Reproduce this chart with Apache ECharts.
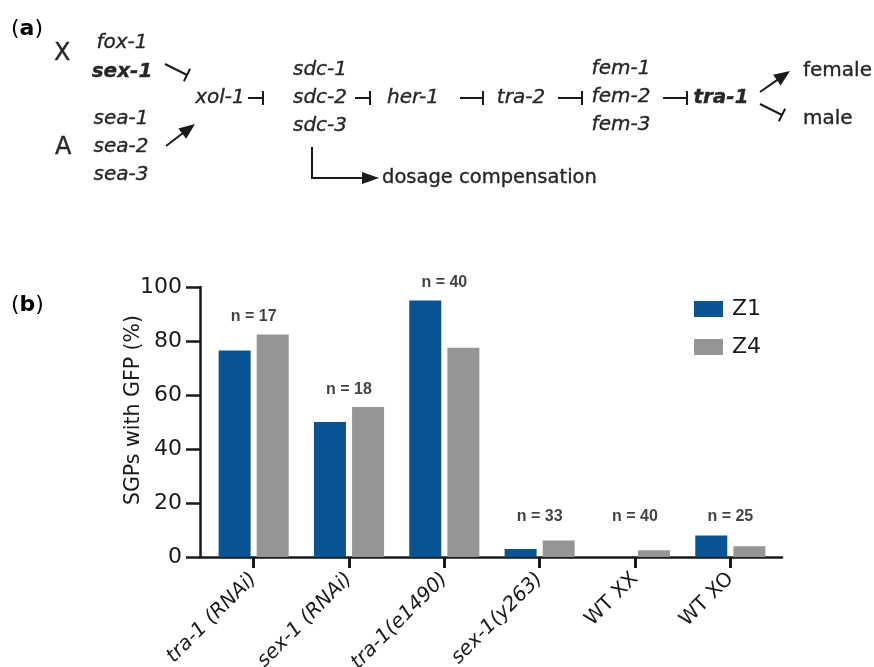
<!DOCTYPE html>
<html>
<head>
<meta charset="utf-8">
<script src="https://cdn.jsdelivr.net/npm/echarts@6/dist/echarts.min.js"></script>
<style>
  html, body { margin: 0; padding: 0; background: #fff; }
  #chart { width: 874px; height: 667px; }
</style>
</head>
<body>
<div id="chart"></div>
<script>
// ---- data ----
const categories = ['tra-1 (RNAi)', 'sex-1 (RNAi)', 'tra-1(e1490)', 'sex-1(y263)', 'WT XX', 'WT XO'];
const z1Values = [76.5, 50.0, 95.0, 3.0, 0, 8.0];
const z4Values = [82.4, 55.6, 77.5, 6.1, 2.5, 4.0];
const nCounts = [17, 18, 40, 33, 40, 25];
const seriesNames = ['Z1', 'Z4'];
const yTickValues = [0, 20, 40, 60, 80, 100];

// ---- styling ----
const BLUE = '#0a5493';
const GRAY = '#959595';
const INK = '#1a1a1a';
const FONT = 'DejaVu Sans';

const chart = echarts.init(document.getElementById('chart'), null, { renderer: 'canvas' });

// label heights for the "n = " annotations (placed just above each group's tallest bar)
const nLabelY = categories.map((c, i) => Math.max(Math.max(z1Values[i], z4Values[i]) + 6.5, 15));

// ---- diagram (panel a) helpers ----
const G = [];
function txt(text, x, y, opt) {
  opt = opt || {};
  G.push({
    type: 'text', x: x, y: y, z: 10,
    style: {
      text: text, fill: opt.color || '#262626',
      font: (opt.style || 'normal') + ' ' + (opt.weight || 'normal') + ' ' + (opt.size || 20) + 'px "' + FONT + '"',
      textAlign: opt.align || 'center', textVerticalAlign: 'middle',
      stroke: opt.color || '#262626', lineWidth: 0.35
    }
  });
}
function line(x1, y1, x2, y2, w) {
  G.push({ type: 'line', z: 10, shape: { x1: x1, y1: y1, x2: x2, y2: y2 }, style: { stroke: INK, lineWidth: w || 2 } });
}
function inhib(x1, y1, x2, y2, half) {
  half = half || 7;
  line(x1, y1, x2, y2);
  const dx = x2 - x1, dy = y2 - y1, L = Math.hypot(dx, dy);
  const px = -dy / L, py = dx / L;
  line(x2 + px * half, y2 + py * half, x2 - px * half, y2 - py * half);
}
function arrow(x1, y1, x2, y2, len, wid) {
  len = len || 16; wid = wid || 13;
  const dx = x2 - x1, dy = y2 - y1, L = Math.hypot(dx, dy);
  const ux = dx / L, uy = dy / L, px = -uy, py = ux;
  const bx = x2 - ux * len, by = y2 - uy * len;
  line(x1, y1, bx + ux * 1, by + uy * 1);
  G.push({ type: 'polygon', z: 10, shape: { points: [[x2, y2], [bx + px * wid / 2, by + py * wid / 2], [bx - px * wid / 2, by - py * wid / 2]] }, style: { fill: INK } });
}
function panelLabel(letter, x, y) {
  G.push({ type: 'text', x: x, y: y, z: 10, style: {
    text: '{n|(}{b|' + letter + '}{n|)}', textVerticalAlign: 'middle',
    rich: { n: { fontFamily: FONT, fontSize: 22, color: INK }, b: { fontFamily: FONT, fontSize: 22, fontWeight: 'bold', color: INK } }
  } });
}

// panel labels
panelLabel('a', 11, 29);
panelLabel('b', 11, 305);

// chromosome signal
txt('X', 54, 54, { size: 24, align: 'left' });
txt('A', 55, 148, { size: 24, align: 'left' });
txt('fox-1', 122, 43, { style: 'italic' });
txt('sex-1', 122, 72, { style: 'italic', weight: 'bold' });
txt('sea-1', 121, 119, { style: 'italic' });
txt('sea-2', 121, 147, { style: 'italic' });
txt('sea-3', 121, 175, { style: 'italic' });
inhib(165, 64, 187, 75);
arrow(166, 146, 195, 124);

// pathway
txt('xol-1', 220, 98, { style: 'italic' });
inhib(248, 98, 263, 98);
txt('sdc-1', 320, 70, { style: 'italic' });
txt('sdc-2', 320, 98, { style: 'italic' });
txt('sdc-3', 320, 126, { style: 'italic' });
inhib(355, 98, 370, 98);
txt('her-1', 413, 98, { style: 'italic' });
inhib(460, 98, 483, 98);
txt('tra-2', 521, 98, { style: 'italic' });
inhib(558, 98, 582, 98);
txt('fem-1', 621, 69, { style: 'italic' });
txt('fem-2', 621, 97, { style: 'italic' });
txt('fem-3', 621, 125, { style: 'italic' });
inhib(663, 98, 687, 98);
txt('tra-1', 721, 98, { style: 'italic', weight: 'bold' });
arrow(760, 92, 790, 71);
inhib(760, 104, 782, 115);
txt('female', 803, 71, { align: 'left' });
txt('male', 803, 119, { align: 'left' });

// dosage compensation branch
G.push({ type: 'polyline', z: 10, shape: { points: [[312, 147], [312, 178], [364, 178]] }, style: { stroke: INK, lineWidth: 2, fill: null } });
G.push({ type: 'polygon', z: 10, shape: { points: [[379, 178], [362, 172], [362, 184]] }, style: { fill: INK } });
txt('dosage compensation', 382, 178, { align: 'left', size: 19.5 });

const option = {
  animation: false,
  backgroundColor: '#ffffff',
  textStyle: { fontFamily: FONT, color: INK },
  graphic: G,
  legend: {
    data: seriesNames,
    orient: 'vertical',
    left: 689, top: 293,
    itemWidth: 29, itemHeight: 16, itemGap: 16,
    icon: 'rect',
    textStyle: { fontFamily: FONT, fontSize: 22, color: INK, padding: [0, 0, 0, 4] }
  },
  grid: [
    { left: 200, right: 92, top: 287, bottom: 110, containLabel: false, outerBoundsMode: 'none' },
    { left: 206, right: 96, top: 287, bottom: 110, containLabel: false, outerBoundsMode: 'none' }
  ],
  xAxis: [
    {
      gridIndex: 0, type: 'value', min: 0, max: 1,
      axisLine: { show: true, onZero: false, lineStyle: { color: INK, width: 2.5 } },
      axisTick: { show: false }, axisLabel: { show: false }, splitLine: { show: false }
    },
    {
      gridIndex: 1, type: 'category', data: categories,
      axisLine: { show: false, onZero: false },
      axisTick: { show: true, alignWithLabel: true, length: 11, lineStyle: { color: INK, width: 3 } },
      axisLabel: {
        interval: 0, rotate: 45, margin: 19,
        formatter: function (v) { return v.indexOf('WT') === 0 ? '{n|' + v + '}' : '{i|' + v + '}'; },
        rich: {
          i: { fontFamily: FONT, fontSize: 20, fontStyle: 'italic', color: INK },
          n: { fontFamily: FONT, fontSize: 20, color: INK }
        }
      },
      splitLine: { show: false }
    }
  ],
  yAxis: [
    {
      gridIndex: 0, type: 'value',
      min: yTickValues[0], max: yTickValues[yTickValues.length - 1], interval: yTickValues[1] - yTickValues[0],
      name: 'SGPs with GFP (%)', nameLocation: 'middle', nameGap: 56, nameMoveOverlap: false,
      nameTextStyle: { fontFamily: FONT, fontSize: 20.5, color: INK, padding: [0, 0, 0, 24] },
      axisLine: { show: true, lineStyle: { color: INK, width: 2.5 } },
      axisTick: { show: true, length: 14, lineStyle: { color: INK, width: 2.5 } },
      axisLabel: { fontFamily: FONT, fontSize: 22, color: INK, margin: 18 },
      splitLine: { show: false }
    },
    {
      gridIndex: 1, type: 'value',
      min: yTickValues[0], max: yTickValues[yTickValues.length - 1],
      show: false, splitLine: { show: false }
    }
  ],
  series: [
    {
      name: seriesNames[0], type: 'bar', xAxisIndex: 1, yAxisIndex: 1,
      data: z1Values, barWidth: 32, barGap: '19%',
      itemStyle: { color: BLUE }
    },
    {
      name: seriesNames[1], type: 'bar', xAxisIndex: 1, yAxisIndex: 1,
      data: z4Values, barWidth: 32, barGap: '19%',
      itemStyle: { color: GRAY }
    },
    {
      name: 'n', type: 'scatter', xAxisIndex: 1, yAxisIndex: 1,
      data: nLabelY, symbolSize: 1, clip: false, silent: true,
      itemStyle: { color: 'rgba(0,0,0,0)' },
      label: {
        show: true, position: 'inside',
        formatter: function (p) { return 'n = ' + nCounts[p.dataIndex]; },
        fontFamily: 'Liberation Sans', fontWeight: 'bold', fontSize: 16, color: '#111111'
      }
    }
  ]
};

chart.setOption(option);
</script>
</body>
</html>
